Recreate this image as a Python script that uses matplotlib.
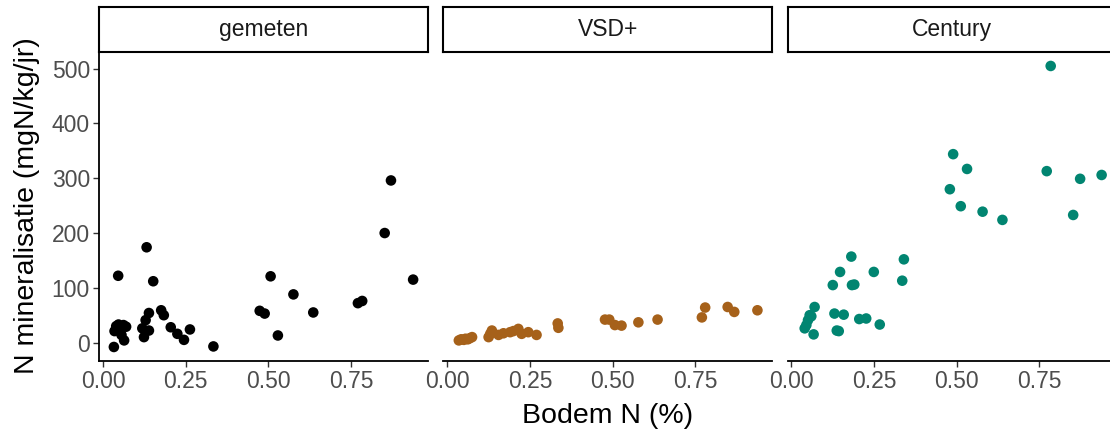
import matplotlib
matplotlib.use("Agg")
import matplotlib.pyplot as plt

plt.rcParams['font.family'] = ['Liberation Sans', 'DejaVu Sans']

# Soil N (%) and N mineralisation (mgN/kg/yr) per source
panels = ["gemeten", "VSD+", "Century"]
colors = ["#000000", "#A6611A", "#018571"]

gemeten_x = [0.033, 0.035, 0.040, 0.047, 0.052, 0.056, 0.062, 0.064, 0.070, 0.046,
             0.119, 0.124, 0.129, 0.132, 0.139, 0.139, 0.152,
             0.176, 0.184, 0.205, 0.225, 0.245, 0.263, 0.334,
             0.474, 0.489, 0.507, 0.529, 0.576, 0.636,
             0.771, 0.784, 0.852, 0.871, 0.938]
gemeten_y = [-8, 21, 30, 33, 25, 14, 32, 4, 29, 122,
             26, 10, 41, 174, 54, 22, 112,
             59, 50, 28, 16, 5, 24, -7,
             58, 53, 121, 13, 88, 55,
             72, 76, 200, 296, 115]

vsd_x = [0.035, 0.042, 0.050, 0.055, 0.062, 0.068, 0.075,
         0.125, 0.130, 0.135, 0.155, 0.170, 0.190, 0.200, 0.215, 0.225, 0.245, 0.270,
         0.334, 0.336,
         0.477, 0.490, 0.507, 0.527, 0.578, 0.636,
         0.770, 0.780, 0.848, 0.868, 0.938]
vsd_y = [4, 6, 5, 7, 6, 8, 10,
         10, 16, 22, 14, 17, 19, 21, 25, 16, 19, 14,
         35, 27,
         42, 42, 32, 31, 37, 42,
         46, 64, 65, 56, 59]

century_x = [0.040, 0.045, 0.050, 0.055, 0.060, 0.067, 0.070,
             0.125, 0.130, 0.137, 0.143, 0.147, 0.158, 0.181, 0.183, 0.190,
             0.205, 0.226, 0.249, 0.267,
             0.335, 0.340,
             0.479, 0.489, 0.512, 0.531, 0.578, 0.638,
             0.772, 0.784, 0.852, 0.873, 0.938]
century_y = [26, 32, 41, 50, 48, 15, 65,
             105, 53, 22, 21, 129, 51, 157, 105, 106,
             43, 44, 129, 33,
             113, 152,
             280, 344, 249, 317, 239, 224,
             313, 505, 233, 299, 306]

series = [(gemeten_x, gemeten_y), (vsd_x, vsd_y), (century_x, century_y)]

xticks = [0.0, 0.25, 0.5, 0.75]
xticklabels = ["0.00", "0.25", "0.50", "0.75"]
yticks = [0, 100, 200, 300, 400, 500]

W, H = 1110, 436
fig = plt.figure(figsize=(W / 100, H / 100), dpi=100)

panel_left = [99, 443.3, 787.5]
panel_w = 329
panel_top, panel_bottom = 52, 361
strip_top = 7

tick_col = "#333333"
lab_col = "#4D4D4D"

for i, (name, col, (xs, ys)) in enumerate(zip(panels, colors, series)):
    ax = fig.add_axes([panel_left[i] / W, (H - panel_bottom) / H,
                       panel_w / W, (panel_bottom - panel_top) / H])
    ax.scatter(xs, ys, s=58, color=col, edgecolors="none", zorder=3, clip_on=False)
    ax.set_xlim(-0.012, 0.983)
    ax.set_ylim(-33.6, 530.5)
    for sp in ["top", "right"]:
        ax.spines[sp].set_visible(False)
    ax.spines["bottom"].set_linewidth(1.3)
    ax.spines["left"].set_linewidth(1.3)
    ax.set_xticks(xticks)
    ax.set_xticklabels(xticklabels)
    ax.tick_params(axis="x", length=4, width=1.0, color=tick_col, labelcolor=lab_col,
                   labelsize=16.5, pad=2.5)
    if i == 0:
        ax.set_yticks(yticks)
        ax.tick_params(axis="y", length=4, width=1.0, color=tick_col, labelcolor=lab_col,
                       labelsize=16.5, pad=2.5)
    else:
        ax.spines["left"].set_visible(False)
        ax.set_yticks([])
    ax.patch.set_alpha(0)

    # facet strip
    sax = fig.add_axes([panel_left[i] / W, (H - panel_top) / H,
                        panel_w / W, (panel_top - strip_top) / H])
    sax.set_xticks([])
    sax.set_yticks([])
    for sp in sax.spines.values():
        sp.set_linewidth(1.5)
        sp.set_color("#000000")
    sax.text(0.5, 0.5, name, ha="center", va="center", fontsize=16.5,
             color="#1A1A1A", transform=sax.transAxes)

fig.text(27 / W, 1 - 206 / H, "N mineralisatie (mgN/kg/jr)", rotation=90,
         ha="center", va="center", fontsize=20.5, color="#000000")
fig.text(0.5 * (99 + 1116) / W, 1 - 416 / H, "Bodem N (%)",
         ha="center", va="center", fontsize=20.5, color="#000000")

fig.savefig("out.png", dpi=100)
